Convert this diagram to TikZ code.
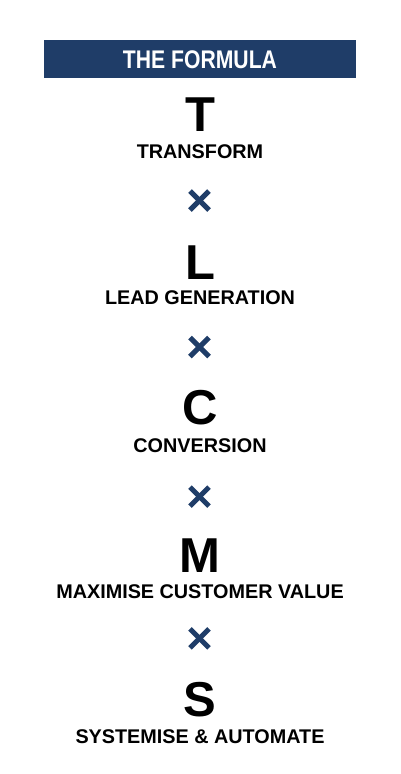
\documentclass[tikz,border=0pt]{standalone}
\usepackage{fontspec}
\usepackage{graphicx}
\usetikzlibrary{calc}
\setmainfont{Liberation Sans}
\definecolor{navy}{RGB}{31,61,104}
\begin{document}
\begin{tikzpicture}[x=1pt,y=-1pt,
  big/.style={anchor=base,inner sep=0pt,font=\bfseries\fontsize{49}{49}\selectfont},
  lbl/.style={anchor=base,inner sep=0pt,font=\bfseries\fontsize{19.8}{20}\selectfont},
  hdr/.style={anchor=base,inner sep=0pt,text=white,font=\bfseries\fontsize{25.5}{25.5}\selectfont},
  crossline/.style={draw=navy,line width=5pt,line cap=butt}]
\useasboundingbox (0,0) rectangle (400,774);
\fill[navy] (44,40) rectangle (356,78);
\node[hdr] (head) at (200,68.3) {\scalebox{0.83}[1]{THE FORMULA}};
\node[big] (T) at (200,131) {T};
\node[lbl] (t) at (200,158) {TRANSFORM};
\node[big] (L) at (200,279.3) {L};
\node[lbl] (l) at (200,304) {LEAD GENERATION};
\node[big] (C) at (200,424.5) {C};
\node[lbl] (c) at (200,452.7) {CONVERSION};
\node[big] (M) at (200,572.7) {M};
\node[lbl] (m) at (200,598.3) {MAXIMISE CUSTOMER VALUE};
\node[big] (S) at (200,716.8) {S};
\node[lbl] (s) at (200,743.3) {SYSTEMISE \& AUTOMATE};
\foreach \n/\yy in {x1/200.5,x2/347,x3/496.7,x4/638.3}{
  \coordinate (\n) at (199.5,\yy);
  \draw[crossline] ($(\n)+(-9.5,-9.5)$) -- ($(\n)+(9.5,9.5)$);
  \draw[crossline] ($(\n)+(-9.5,9.5)$) -- ($(\n)+(9.5,-9.5)$);
}
\end{tikzpicture}
\end{document}
